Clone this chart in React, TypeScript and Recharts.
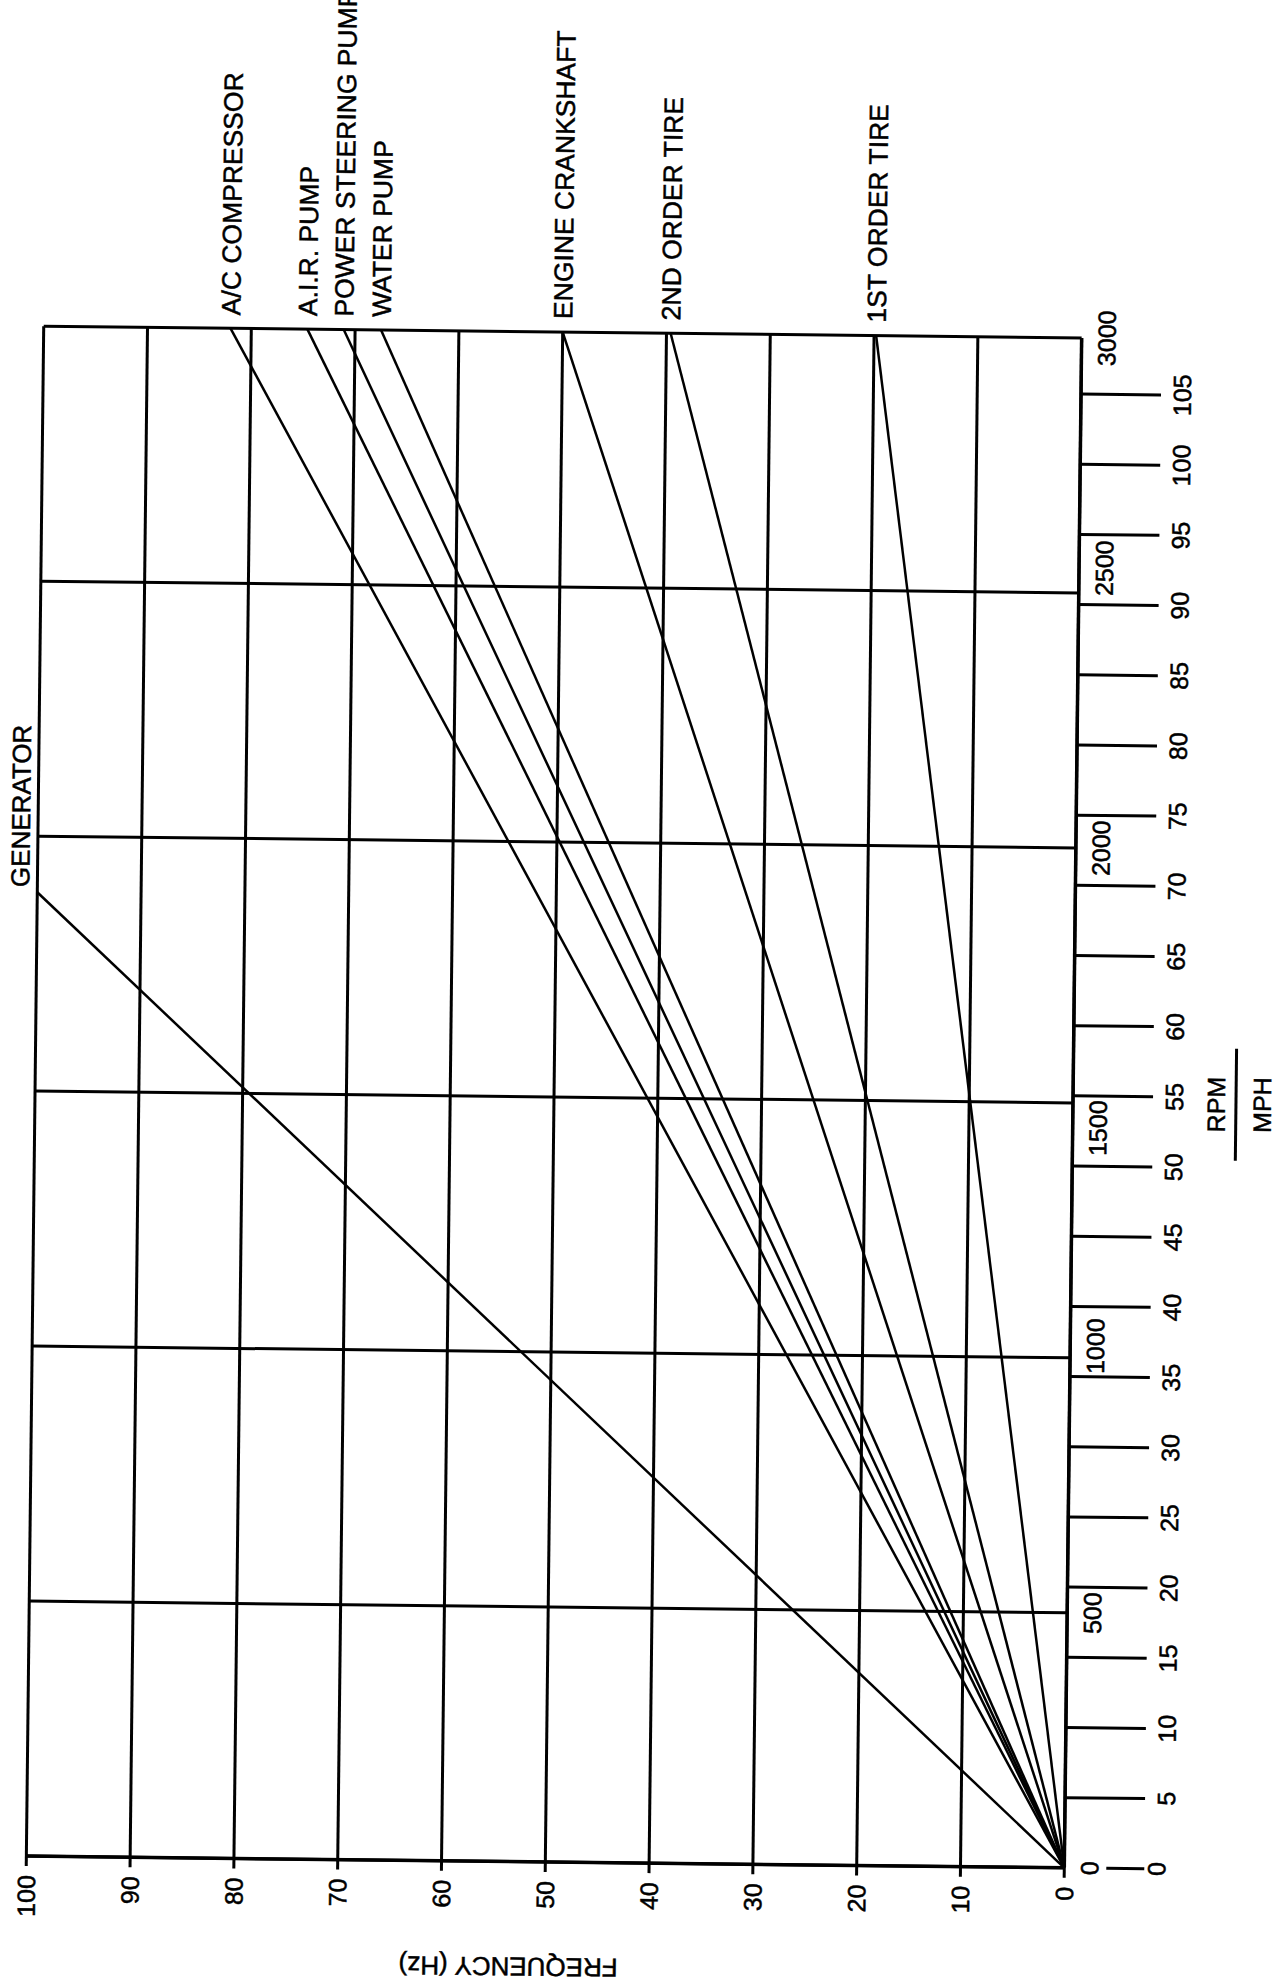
import React from 'react';
import { LineChart, Line, XAxis, YAxis, CartesianGrid } from 'recharts';

// series: each line starts at the origin and ends at (endRpm, endHz)
const seriesNames = [
  'GENERATOR',
  'A/C COMPRESSOR',
  'A.I.R. PUMP',
  'POWER STEERING PUMP',
  'WATER PUMP',
  'ENGINE CRANKSHAFT',
  '2ND ORDER TIRE',
  '1ST ORDER TIRE',
];
const endRpm = [1890, 3000, 3000, 3000, 3000, 3000, 3000, 3000];
const endHz = [100, 82, 74.6, 71.1, 67.5, 50, 39.6, 19.8];

const rpmTicks = [0, 500, 1000, 1500, 2000, 2500, 3000];
const mphTicks = [0, 5, 10, 15, 20, 25, 30, 35, 40, 45, 50, 55, 60, 65, 70, 75, 80, 85, 90, 95, 100, 105];
const mphMax = 109;
const hzTicks = [0, 10, 20, 30, 40, 50, 60, 70, 80, 90, 100];

const FONT = "'Liberation Sans', Arial, Helvetica, sans-serif";

// chart is drawn landscape, then turned on its side
const W = 2030;
const H = 1298;
const M = { top: 50, right: 360, bottom: 60, left: 40 };
const Y_W = 100;
const RPM_H = 2;
const MPH_H = 148;
const OX = M.left + Y_W + (W - M.left - Y_W - M.right) / 2;
const OY = M.top + (H - M.top - M.bottom - RPM_H - MPH_H) / 2;
const CX = 554;
const CY = 1097;

const rpmShift: Record<number, number> = { 2500: 25, 1500: -25, 1000: 12 };

const txt = { fontFamily: FONT, fill: '#000', stroke: '#000', strokeWidth: 0.5 };

const RpmTick = (props: any) => {
  const { x, y, payload } = props;
  const dx = rpmShift[payload.value] || 0;
  return (
    <text x={x + dx} y={y + 34} textAnchor="middle" fontSize={25} {...txt}>
      {payload.value}
    </text>
  );
};

const MphTick = (props: any) => {
  const { x, y, payload } = props;
  const zero = payload.value === 0;
  return (
    <g>
      <line x1={x} x2={x} y1={zero ? y + 40 : y - 2} y2={y + 78} stroke="#000" strokeWidth={3} />
      <text x={x} y={zero ? y + 99 : y + 108} textAnchor="middle" fontSize={25} {...txt}>
        {payload.value}
      </text>
    </g>
  );
};

const HzTick = (props: any) => {
  const { x, y, payload } = props;
  return (
    <text x={x} y={y} dy="0.36em" textAnchor="end" fontSize={25} {...txt}>
      {payload.value}
    </text>
  );
};

const HzTitle = (props: any) => {
  const vb = props.viewBox || {};
  const cx = vb.x + vb.width - 105;
  const cy = vb.y + vb.height / 2 - 36;
  return (
    <text
      x={cx}
      y={cy}
      textAnchor="middle"
      dominantBaseline="central"
      transform={`rotate(-90, ${cx}, ${cy})`}
      fontSize={26}
      {...txt}
    >
      FREQUENCY (Hz)
    </text>
  );
};

const SpeedTitle = (props: any) => {
  const vb = props.viewBox || {};
  const cx = vb.x + vb.width / 2;
  const top = vb.y;
  return (
    <g>
      <text x={cx} y={top + 150} textAnchor="middle" fontSize={25} {...txt}>
        RPM
      </text>
      <line x1={cx - 56} x2={cx + 56} y1={top + 161} y2={top + 161} stroke="#000" strokeWidth={3} />
      <text x={cx} y={top + 196} textAnchor="middle" fontSize={25} {...txt}>
        MPH
      </text>
    </g>
  );
};

const endLabel = (name: string) => (props: any) => {
  if (props.index !== 1) return null;
  const x = props.x ?? props.viewBox?.x;
  const y = props.y ?? props.viewBox?.y;
  if (name === 'GENERATOR') {
    return (
      <text x={x + 5} y={y - 8} textAnchor="start" fontSize={26} {...txt}>
        {name}
      </text>
    );
  }
  return (
    <text x={x + 13} y={y} dy="0.36em" textAnchor="start" fontSize={26.5} {...txt}>
      {name}
    </text>
  );
};

export default function App() {
  return (
    <div
      style={{
        position: 'absolute',
        left: 0,
        top: 0,
        width: 1280,
        height: 1988,
        overflow: 'hidden',
        background: '#fff',
      }}
    >
      <div
        style={{
          position: 'absolute',
          left: CX - OX,
          top: CY - OY,
          width: W,
          height: H,
          transformOrigin: `${OX}px ${OY}px`,
          transform: 'rotate(-89.35deg)',
        }}
      >
        <LineChart width={W} height={H} margin={M}>
          <CartesianGrid xAxisId={0} stroke="#000" strokeWidth={3} fill="none" />
          <XAxis
            xAxisId={0}
            type="number"
            dataKey="rpm"
            domain={[0, 3000]}
            ticks={rpmTicks}
            interval={0}
            allowDataOverflow
            height={RPM_H}
            tickSize={0}
            tickMargin={0}
            tickLine={false}
            axisLine={{ stroke: '#000', strokeWidth: 3.5 }}
            tick={<RpmTick />}
          />
          <XAxis
            xAxisId={1}
            type="number"
            dataKey="mph"
            domain={[0, mphMax]}
            ticks={mphTicks}
            interval={0}
            allowDataOverflow
            height={MPH_H}
            tickSize={0}
            tickMargin={0}
            tickLine={false}
            axisLine={false}
            tick={<MphTick />}
            label={<SpeedTitle />}
          />
          <YAxis
            type="number"
            domain={[0, 100]}
            ticks={hzTicks}
            interval={0}
            allowDataOverflow
            width={Y_W}
            tickSize={10}
            tickMargin={9}
            tickLine={{ stroke: '#000', strokeWidth: 3 }}
            axisLine={{ stroke: '#000', strokeWidth: 3.5 }}
            tick={<HzTick />}
            label={<HzTitle />}
          />
          {seriesNames.map((name, i) => (
            <Line
              key={name}
              xAxisId={0}
              type="linear"
              data={[
                { rpm: 0, hz: 0 },
                { rpm: endRpm[i], hz: endHz[i] },
              ]}
              dataKey="hz"
              stroke="#000"
              strokeWidth={2.5}
              dot={false}
              isAnimationActive={false}
              label={endLabel(name)}
            />
          ))}
        </LineChart>
      </div>
    </div>
  );
}
